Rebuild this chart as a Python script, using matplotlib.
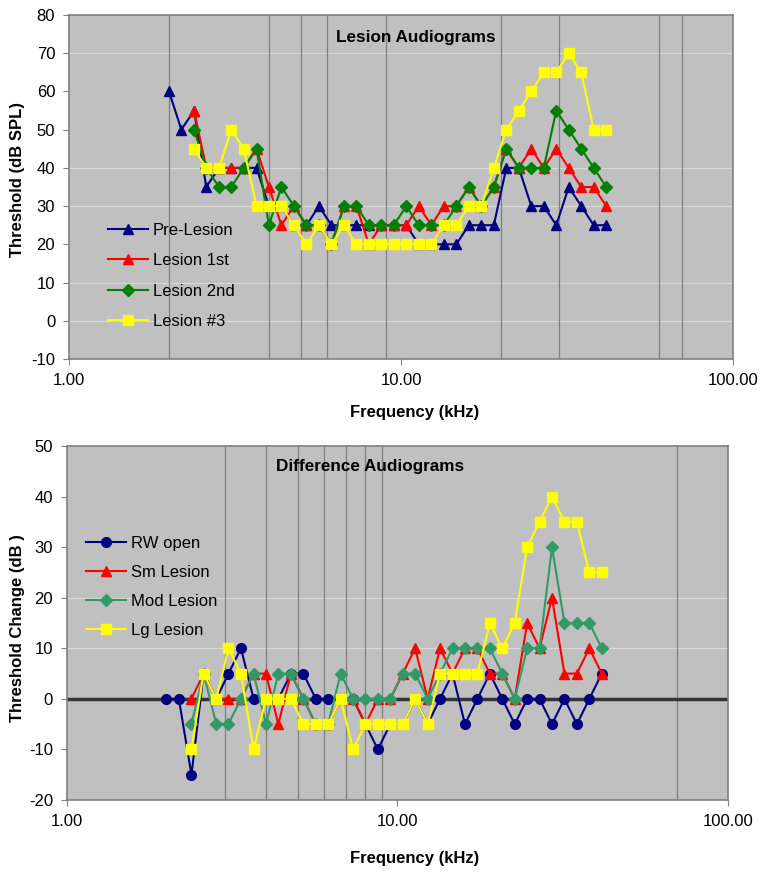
import matplotlib
matplotlib.use("Agg")
import matplotlib.pyplot as plt
from matplotlib.ticker import FixedLocator, NullLocator, FixedFormatter

plt.rcParams['font.family'] = ['Liberation Sans', 'DejaVu Sans']
plt.rcParams['font.size'] = 12
plt.rcParams['axes.unicode_minus'] = False

# frequencies (kHz)
FREQ = [2.00, 2.18, 2.38, 2.59, 2.83, 3.08, 3.36, 3.67, 4.00, 4.36, 4.76, 5.19,
        5.66, 6.17, 6.73, 7.34, 8.00, 8.72, 9.51, 10.37, 11.31, 12.34, 13.45, 14.67,
        16.00, 17.45, 19.03, 20.75, 22.63, 24.68, 26.91, 29.34, 32.00, 34.90, 38.05, 41.50]

# top panel: thresholds (dB SPL)
PRE_LESION = [60, 50, 55, 35, 40, 40, 40, 40, 30, 30, 25, 25, 30, 25, 25, 25, 25, 25,
              25, 25, 20, 20, 20, 20, 25, 25, 25, 40, 40, 30, 30, 25, 35, 30, 25, 25]
LESION_1 = [None, None, 55, 40, 40, 40, 40, 45, 35, 25, 30, 25, 25, 20, 30, 30, 20, 25,
            25, 25, 30, 25, 30, 30, 35, 30, 35, 45, 40, 45, 40, 45, 40, 35, 35, 30]
LESION_2 = [None, None, 50, 40, 35, 35, 40, 45, 25, 35, 30, 25, 25, 20, 30, 30, 25, 25,
            25, 30, 25, 25, 25, 30, 35, 30, 35, 45, 40, 40, 40, 55, 50, 45, 40, 35]
LESION_3 = [None, None, 45, 40, 40, 50, 45, 30, 30, 30, 25, 20, 25, 20, 25, 20, 20, 20,
            20, 20, 20, 20, 25, 25, 30, 30, 40, 50, 55, 60, 65, 65, 70, 65, 50, 50]

# bottom panel: threshold change (dB)
RW_OPEN = [0, 0, -15, 5, 0, 5, 10, 0, 0, 0, 5, 5, 0, 0, 0, 0, -5, -10,
           -5, -5, 0, -5, 0, 5, -5, 0, 5, 0, -5, 0, 0, -5, 0, -5, 0, 5]
SM_LESION = [None, None, 0, 5, 0, 0, 0, 5, 5, -5, 5, 0, -5, -5, 0, 0, -5, 0,
             0, 5, 10, 0, 10, 5, 10, 10, 5, 5, 0, 15, 10, 20, 5, 5, 10, 5]
MOD_LESION = [None, None, -5, 5, -5, -5, 0, 5, -5, 5, 5, 0, -5, -5, 5, 0, 0, 0,
              0, 5, 5, 0, 5, 10, 10, 10, 10, 5, 0, 10, 10, 30, 15, 15, 15, 10]
LG_LESION = [None, None, -10, 5, 0, 10, 5, -10, 0, 0, 0, -5, -5, -5, 0, -10, -5, -5,
             -5, -5, 0, -5, 5, 5, 5, 5, 15, 10, 15, 30, 35, 40, 35, 35, 25, 25]

TOP_VLINES = [2, 4, 5, 6, 9, 20, 30, 60, 70]
BOT_VLINES = [3, 4, 5, 6, 7, 8, 9, 70]


def clean(vals):
    xs = [f for f, v in zip(FREQ, vals) if v is not None]
    ys = [v for v in vals if v is not None]
    return xs, ys


def style_axes(ax, ylo, yhi, faint, vlines):
    ax.set_facecolor('#C0C0C0')
    ax.set_xscale('log')
    ax.set_xlim(1, 100)
    ax.set_ylim(ylo, yhi)
    ax.xaxis.set_major_locator(FixedLocator([1, 10, 100]))
    ax.xaxis.set_major_formatter(FixedFormatter(['1.00', '10.00', '100.00']))
    ax.xaxis.set_minor_locator(NullLocator())
    ax.set_yticks(range(ylo, yhi + 1, 10))
    ax.tick_params(length=4, width=0.8, color='#808080', pad=6, labelsize=12)
    for s in ax.spines.values():
        s.set_color('#808080')
        s.set_linewidth(1.2)
    for y in faint:
        ax.axhline(y, color='#D9D9D9', lw=0.8, zorder=1)
    for x in vlines:
        ax.axvline(x, color='#808080', lw=0.9, zorder=1)


fig = plt.figure(figsize=(7.62, 8.73), dpi=100)

# ---- top panel
ax1 = fig.add_axes([0.0906, 0.5888, 0.8714, 0.394])
style_axes(ax1, -10, 80, [70, 40, 30, 10, 0], TOP_VLINES)
for vals, col, mk, lab in [(PRE_LESION, '#000080', '^', 'Pre-Lesion'),
                           (LESION_1, '#FF0000', '^', 'Lesion 1st'),
                           (LESION_2, '#008000', 'D', 'Lesion 2nd'),
                           (LESION_3, '#FFFF00', 's', 'Lesion #3')]:
    xs, ys = clean(vals)
    ax1.plot(xs, ys, color=col, marker=mk, ms=7.5 if mk != 'D' else 6.5,
             lw=1.5, label=lab, zorder=3)
ax1.legend(loc='upper left', bbox_to_anchor=(0.036, 0.44), frameon=False,
           fontsize=12, handlelength=2.4, labelspacing=0.93, handletextpad=0.3)
ax1.text(0.522, 0.936, 'Lesion Audiograms', transform=ax1.transAxes,
         ha='center', va='center', fontsize=12.3, fontweight='bold')

# ---- bottom panel
ax2 = fig.add_axes([0.0879, 0.0836, 0.8675, 0.4055])
style_axes(ax2, -20, 50, [20, 10], BOT_VLINES)
ax2.axhline(0, color='#333333', lw=2.5, zorder=2)
for vals, col, mk, lab in [(RW_OPEN, '#000080', 'o', 'RW open'),
                           (SM_LESION, '#FF0000', '^', 'Sm Lesion'),
                           (MOD_LESION, '#339966', 'D', 'Mod Lesion'),
                           (LG_LESION, '#FFFF00', 's', 'Lg Lesion')]:
    xs, ys = clean(vals)
    ax2.plot(xs, ys, color=col, marker=mk, ms=7 if mk != 'D' else 6,
             lw=1.5, label=lab, zorder=3)
ax2.legend(loc='upper left', bbox_to_anchor=(0.0055, 0.789), frameon=False,
           fontsize=12, handlelength=2.4, labelspacing=0.85, handletextpad=0.3)
ax2.text(0.458, 0.941, 'Difference Audiograms', transform=ax2.transAxes,
         ha='center', va='center', fontsize=12.3, fontweight='bold')

# axis titles
fig.text(415 / 762, 1 - 413 / 873, 'Frequency (kHz)', ha='center', va='center',
         fontsize=12, fontweight='bold')
fig.text(415 / 762, 1 - 858 / 873, 'Frequency (kHz)', ha='center', va='center',
         fontsize=12, fontweight='bold')
fig.text(18 / 762, 1 - 180 / 873, 'Threshold (dB SPL)', rotation=90, ha='center',
         va='center', fontsize=12, fontweight='bold')
fig.text(18 / 762, 1 - 628 / 873, 'Threshold Change (dB )', rotation=90, ha='center',
         va='center', fontsize=12, fontweight='bold')

fig.savefig('out.png', dpi=100)
